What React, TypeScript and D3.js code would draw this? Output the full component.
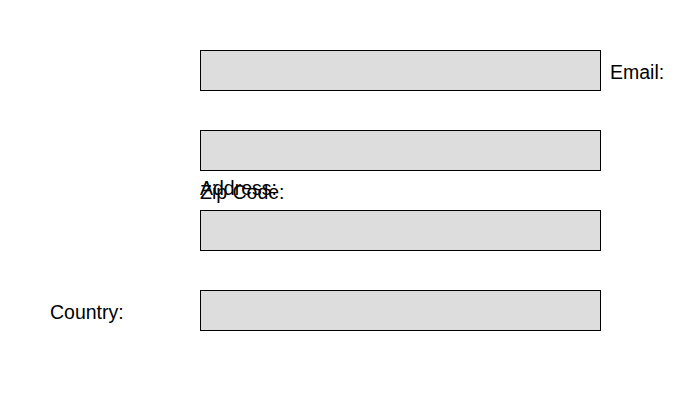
import { useEffect, useRef } from "react";
import * as d3 from "d3";

const fields = ["Email", "Address", "Zip Code", "Country"];
const labels = ["Email:", "Address:", "Zip Code:", "Country:"];

export default function App() {
  const svgRef = useRef<SVGSVGElement>(null);

  useEffect(() => {
    if (!svgRef.current) return;
    const width = 700;
    const height = 400;
    const svg = d3.select(svgRef.current);
    svg.selectAll("*").remove();
    svg.attr("width", width).attr("height", height);

    // rows every 80px, boxes 40px tall
    const y = d3.scaleBand().domain(fields).range([50, 330]).paddingInner(0.5).paddingOuter(0);
    const x = d3.scaleLinear().domain([0, 1]).range([200, 600]);

    svg
      .selectAll("rect.box")
      .data(fields)
      .join("rect")
      .attr("class", "box")
      .attr("x", x(0) + 0.5)
      .attr("y", (d) => (y(d) ?? 0) + 0.5)
      .attr("width", x(1) - x(0))
      .attr("height", y.bandwidth())
      .attr("fill", "#dddddd")
      .attr("stroke", "#000")
      .attr("stroke-width", 1);

    // labels placed oddly, as in the reference
    const pos: Record<string, [number, number]> = {
      Email: [x(1) + 10, (y("Email") ?? 0) + 29],
      Address: [x(0), (y("Address") ?? 0) + 65],
      "Zip Code": [x(0), (y("Address") ?? 0) + 69],
      Country: [50, (y("Country") ?? 0) + 29],
    };

    svg
      .selectAll("text.lbl")
      .data(fields)
      .join("text")
      .attr("class", "lbl")
      .attr("x", (d) => pos[d][0])
      .attr("y", (d) => pos[d][1])
      .attr("fill", "#000")
      .style("font-family", "'Liberation Sans', Arial, sans-serif")
      .style("font-size", "19.5px")
      .text((_, i) => labels[i]);
  }, []);

  return (
    <div style={{ position: "absolute", left: 0, top: 0 }}>
      <svg ref={svgRef} style={{ display: "block" }} />
    </div>
  );
}
